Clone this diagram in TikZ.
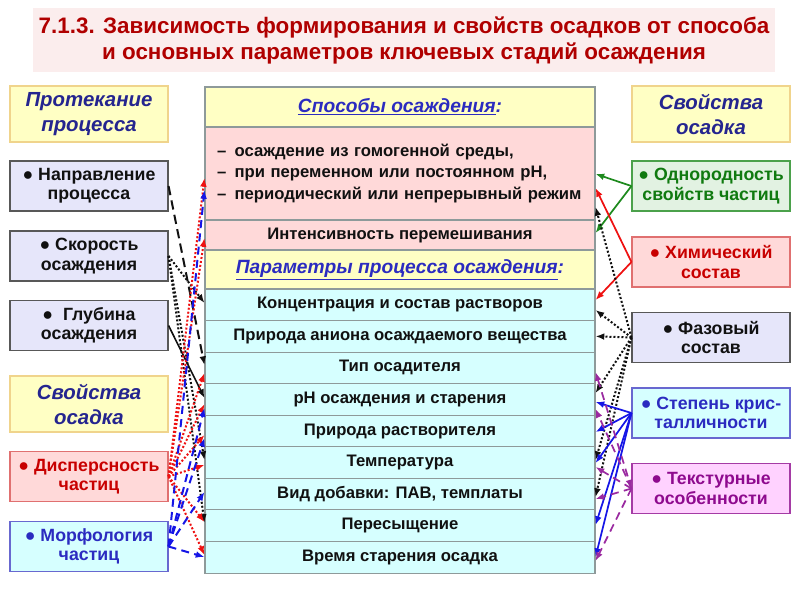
\documentclass[tikz,border=0pt]{standalone}
\usepackage{fontspec}
\setmainfont{Liberation Sans}
\setsansfont{Liberation Sans}
\usetikzlibrary{arrows.meta, positioning}
\definecolor{ink}{HTML}{111111}
\definecolor{frame}{HTML}{8E9A9A}
\definecolor{titlered}{HTML}{B00000}
\definecolor{titleband}{HTML}{FBEDED}
\definecolor{navy}{HTML}{25258F}
\definecolor{headfill}{HTML}{FFFFC4}
\definecolor{headrim}{HTML}{F0D48C}
\definecolor{lilac}{HTML}{E6E6FA}
\definecolor{pinkfill}{HTML}{FFD9D9}
\definecolor{pinkrim}{HTML}{E07070}
\definecolor{cyanfill}{HTML}{D6FFFF}
\definecolor{bluetext}{HTML}{2B2BC0}
\definecolor{bluerim}{HTML}{6868D0}
\definecolor{greenfill}{HTML}{E2F2E2}
\definecolor{greentext}{HTML}{107A10}
\definecolor{purplefill}{HTML}{FFD2FF}
\definecolor{purpletext}{HTML}{8E0A8E}
\definecolor{redtext}{HTML}{C80000}
\definecolor{arrowred}{HTML}{EE1111}
\definecolor{arrowblue}{HTML}{1515E6}
\definecolor{arrowgreen}{HTML}{1E8A1E}
\definecolor{arrowpurple}{HTML}{9A2AA0}
\tikzset{
  nodebase/.style={font=\fontsize{13.3pt}{14.5pt}\selectfont\bfseries, text=ink,
    align=center, inner sep=2pt, line width=0.8pt},
  heading/.style={nodebase, draw=headrim, fill=headfill, text=navy,
    minimum width=118.5pt, minimum height=42pt,
    font=\fontsize{15.3pt}{18.7pt}\selectfont\bfseries\itshape},
  item/.style={nodebase, draw=ink!70, fill=lilac, minimum width=118.5pt, minimum height=37.5pt},
  reditem/.style={item, draw=pinkrim, fill=pinkfill, text=redtext},
  blueitem/.style={item, draw=bluerim, fill=cyanfill, text=bluetext},
  greenitem/.style={item, draw=arrowgreen!80, fill=greenfill, text=greentext},
  purpleitem/.style={item, draw=purpletext!80, fill=purplefill, text=purpletext},
  colhead/.style={nodebase, draw=frame, fill=headfill, text=bluetext,
    minimum width=292.5pt, minimum height=30pt,
    font=\fontsize{14.4pt}{16pt}\selectfont\bfseries\itshape},
  pinkrow/.style={nodebase, draw=frame, fill=pinkfill, minimum width=292.5pt,
    minimum height=22.5pt, font=\fontsize{12.5pt}{14pt}\selectfont\bfseries},
  row/.style={nodebase, draw=frame, fill=cyanfill, minimum width=292.5pt,
    minimum height=23.67pt, font=\fontsize{12.5pt}{14pt}\selectfont\bfseries},
  tip/.style={-{Latex[length=2.3mm,width=1.8mm]}},
  greenlink/.style={tip, draw=arrowgreen, line width=1.3pt},
  chemlink/.style={tip, draw=arrowred, line width=1.3pt},
  phaselink/.style={tip, draw=ink, line width=1.5pt, dash pattern=on 1.5pt off 1.5pt},
  crystlink/.style={tip, draw=arrowblue, line width=1.3pt},
  texturelink/.style={tip, draw=arrowpurple, line width=1.3pt, dash pattern=on 6pt off 4pt},
  directlink/.style={tip, draw=ink, line width=1.5pt, dash pattern=on 7pt off 4pt},
  ratelink/.style={tip, draw=ink, line width=1.5pt, dash pattern=on 1.5pt off 1.5pt},
  depthlink/.style={tip, draw=ink, line width=1.2pt},
  displink/.style={tip, draw=arrowred, line width=1.5pt, dash pattern=on 1.5pt off 1.5pt},
  morphlink/.style={tip, draw=arrowblue, line width=1.5pt, dash pattern=on 6pt off 4pt}
}

\begin{document}
\begin{tikzpicture}[x=0.75pt,y=-0.75pt]
\useasboundingbox (0,0) rectangle (800,600);

% Title
\node[fill=titleband, minimum width=556.5pt, minimum height=48pt, text=titlered,
  align=center, font=\fontsize{16.8pt}{19.5pt}\selectfont\bfseries] (title) at (404,40)
  {7.1.3. Зависимость формирования и свойств осадков от способа\\
   и основных параметров ключевых стадий осаждения};

% Left column
\node[heading] (flowhead) at (89,114) {Протекание\\процесса};
\node[item] (direction) at (89,186) {● Направление\\процесса};
\node[item] (rate) at (89,256) {● Скорость\\осаждения};
\node[item] (depth) at (89,325.5) {●\ \ Глубина\\осаждения};
\node[heading] (prophead) at (89,404) {Свойства\\осадка};
\node[reditem] (dispers) at (89,476.5) {● Дисперсность\\частиц};
\node[blueitem] (morph) at (89,546.5) {● Морфология\\частиц};

% Centre column
\node[colhead] (methodhead) at (400,107) {\underline{Способы осаждения}:};
\node[pinkrow, minimum height=69.75pt, text width=274.5pt, inner xsep=9pt, align=left,
  font=\fontsize{12.5pt}{16.2pt}\selectfont\bfseries] (methods) at (400,173.5)
  {–\enspace осаждение из гомогенной среды,\\
   –\enspace при переменном или постоянном pH,\\
   –\enspace периодический или непрерывный режим};
\node[pinkrow] (mixing) at (400,235) {Интенсивность перемешивания};
\node[colhead, minimum height=29.25pt] (paramhead) at (400,269.5)
  {\underline{Параметры процесса осаждения}:};
\node[row] (conc) at (400,304.8) {Концентрация и состав растворов};
\node[row] (anion) at (400,336.3) {Природа аниона осаждаемого вещества};
\node[row] (prec) at (400,367.9) {Тип осадителя};
\node[row] (ph) at (400,399.5) {pH осаждения и старения};
\node[row] (solv) at (400,431.0) {Природа растворителя};
\node[row] (temp) at (400,462.6) {Температура};
\node[row] (addit) at (400,494.2) {Вид добавки: ПАВ, темплаты};
\node[row] (supsat) at (400,525.7) {Пересыщение};
\node[row] (aging) at (400,557.3) {Время старения осадка};

% Right column
\node[heading] (rprophead) at (711,114) {Свойства\\осадка};
\node[greenitem] (uniform) at (711,186) {● Однородность\\свойств частиц};
\node[reditem] (chem) at (711,262) {● Химический\\состав};
\node[item] (phase) at (711,337.5) {● Фазовый\\состав};
\node[blueitem] (cryst) at (711,413) {● Степень крис-\\талличности};
\node[purpleitem] (texture) at (711,488.5) {● Текстурные\\особенности};

% Links from the left
\draw[directlink] (direction.east) -- (prec.west |- 0,365);
\draw[ratelink] (rate.east) -- (conc.west |- 0,303);
\draw[ratelink] (rate.east) -- (temp.west |- 0,460);
\draw[ratelink] (rate.east) -- (supsat.west |- 0,523);
\draw[depthlink] (depth.east) -- (ph.west |- 0,398);
\draw[displink] (dispers.east) -- (methods.west |- 0,178);
\draw[displink] (dispers.east) -- (mixing.west |- 0,238);
\draw[displink] (dispers.east) -- (prec.west |- 0,373);
\draw[displink] (dispers.east) -- (ph.west |- 0,404);
\draw[displink] (dispers.east) -- (solv.west |- 0,435);
\draw[displink] (dispers.east) -- (temp.west |- 0,465);
\draw[displink] (dispers.east) -- (supsat.west |- 0,522);
\draw[displink] (dispers.east) -- (aging.west |- 0,555);
\draw[morphlink] (morph.east) -- (methods.west |- 0,190);
\draw[morphlink] (morph.east) -- (ph.west |- 0,408);
\draw[morphlink] (morph.east) -- (solv.west |- 0,438);
\draw[morphlink] (morph.east) -- (addit.west |- 0,492);
\draw[morphlink] (morph.east) -- (aging.west |- 0,557);

% Links from the right
\draw[greenlink] (uniform.west) -- (methods.east |- 0,174);
\draw[greenlink] (uniform.west) -- (mixing.east |- 0,233);
\draw[chemlink] (chem.west) -- (methods.east |- 0,188);
\draw[chemlink] (chem.west) -- (conc.east |- 0,300);
\draw[phaselink] (phase.west) -- (methods.east |- 0,207);
\draw[phaselink] (phase.west) -- (conc.east |- 0,310);
\draw[phaselink] (phase.west) -- (anion.east);
\draw[phaselink] (phase.west) -- (ph.east |- 0,393);
\draw[phaselink] (phase.west) -- (temp.east |- 0,460);
\draw[phaselink] (phase.west) -- (addit.east |- 0,497);
\draw[crystlink] (cryst.west) -- (ph.east |- 0,402);
\draw[crystlink] (cryst.west) -- (solv.east |- 0,432);
\draw[crystlink] (cryst.west) -- (temp.east |- 0,463);
\draw[crystlink] (cryst.west) -- (supsat.east |- 0,525);
\draw[crystlink] (cryst.west) -- (aging.east |- 0,557);
\draw[texturelink, {Latex[length=2.3mm,width=1.8mm]}-{Latex[length=2.3mm,width=1.8mm]}]
  (prec.east |- 0,372) -- (texture.west);
\draw[texturelink] (texture.west) -- (ph.east |- 0,409);
\draw[texturelink] (texture.west) -- (temp.east |- 0,467);
\draw[texturelink] (texture.west) -- (addit.east |- 0,499);
\draw[texturelink] (texture.west) -- (aging.east |- 0,561);

\end{tikzpicture}
\end{document}
